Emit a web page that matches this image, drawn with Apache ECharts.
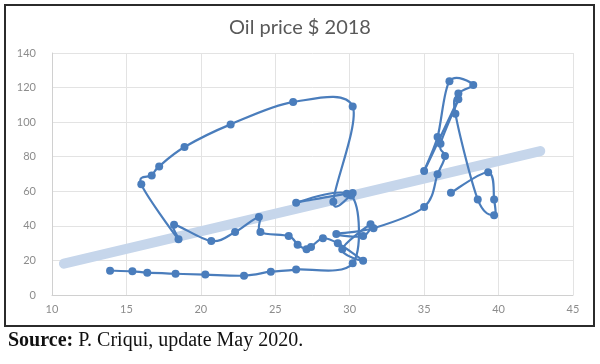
<!DOCTYPE html>
<html>
<head>
<meta charset="utf-8">
<script src="https://cdn.jsdelivr.net/npm/echarts@6/dist/echarts.min.js"></script>
<style>
html,body{margin:0;padding:0;background:#fff;}
#c{width:600px;height:364px;}
</style>
</head>
<body>
<div id="c"></div>
<script>
// Years of the path (1965-2019)
var years = [1965,1966,1967,1968,1969,1970,1971,1972,1973,1974,1975,1976,1977,1978,1979,1980,
  1981,1982,1983,1984,1985,1986,1987,1988,1989,1990,1991,1992,1993,1994,1995,1996,1997,1998,1999,
  2000,2001,2002,2003,2004,2005,2006,2007,2008,2009,2010,2011,2012,2013,2014,2015,2016,2017,2018,2019];
// x values (production)
var xValues = [13.9,15.4,16.4,18.3,20.3,22.9,24.7,26.4,30.2,30.1,26.4,29.8,30.2,28.9,30.2,26.2,
  22.0,18.9,17.2,16.7,16.0,18.5,18.2,20.7,22.3,23.9,24.0,25.9,26.5,27.1,27.4,28.2,29.2,30.9,29.5,
  31.4,30.9,29.1,31.6,35.0,35.9,36.4,36.1,37.3,35.0,35.9,36.7,38.3,37.3,37.1,38.6,39.7,39.7,39.3,36.8];
// Oil price, $ 2018
var prices = [14.1,13.7,12.9,12.3,11.8,11.2,13.5,14.7,18.3,57.5,53.4,58.6,59.0,54.0,109.1,111.6,
  98.7,85.6,74.4,69.2,64.0,32.2,40.7,31.2,36.4,45.1,36.4,34.1,29.1,26.4,27.8,32.8,29.9,19.8,26.4,
  40.9,34.1,35.3,38.6,50.9,69.8,80.4,87.5,113.2,71.7,91.4,123.6,121.5,116.5,104.9,55.3,46.1,55.3,71.0,59.2];
// Trend line end points
var trendX = [10.8, 42.8];
var trendY = [18.1, 83.3];
var xTicks = [10,15,20,25,30,35,40,45];
var yTicks = [0,20,40,60,80,100,120,140];

var pathData = xValues.map(function(x,i){ return [x, prices[i]]; });
var trendData = trendX.map(function(x,i){ return [x, trendY[i]]; });
var N = pathData.length;
var blue = '#4a7dbc';

// Smoothed (Catmull-Rom style) segment i -> i+1, positioned through the axes
function renderSegment(params, api) {
  var i = params.dataIndex;
  if (i >= N - 1) return null;
  var p1 = api.coord([api.value(0), api.value(1)]);
  var p0 = api.coord(pathData[Math.max(i - 1, 0)]);
  var p2 = api.coord(pathData[i + 1]);
  var p3 = api.coord(pathData[Math.min(i + 2, N - 1)]);
  var k = 1 / 6;
  return {
    type: 'bezierCurve',
    shape: {
      x1: p1[0], y1: p1[1], x2: p2[0], y2: p2[1],
      cpx1: p1[0] + (p2[0] - p0[0]) * k, cpy1: p1[1] + (p2[1] - p0[1]) * k,
      cpx2: p2[0] - (p3[0] - p1[0]) * k, cpy2: p2[1] - (p3[1] - p1[1]) * k
    },
    style: { stroke: blue, lineWidth: 2.2, fill: null, lineCap: 'round' }
  };
}

var chart = echarts.init(document.getElementById('c'), null, {renderer:'canvas'});
var labelFont = 'Lato, "Open Sans", sans-serif';
var serif = '"Liberation Serif", "Times New Roman", serif';
chart.setOption({
  animation:false,
  backgroundColor:'#ffffff',
  title:{
    text:'Oil price $ 2018',
    left:'center', top:13,
    textStyle:{color:'#595959', fontSize:20, fontWeight:'normal', fontFamily:labelFont}
  },
  grid:{left:52, right:27, top:53, bottom:69},
  xAxis:{
    type:'value', min:xTicks[0], max:xTicks[xTicks.length-1], interval:5,
    axisLine:{show:true, lineStyle:{color:'#d0d0d0', width:1}},
    axisTick:{show:false},
    axisLabel:{color:'#8c8c8c', fontSize:11, fontFamily:labelFont, margin:9},
    splitLine:{show:true, lineStyle:{color:'#e3e3e3', width:1}}
  },
  yAxis:{
    type:'value', min:yTicks[0], max:yTicks[yTicks.length-1], interval:20,
    axisLine:{show:true, lineStyle:{color:'#d0d0d0', width:1}},
    axisTick:{show:false},
    axisLabel:{color:'#8c8c8c', fontSize:11, fontFamily:labelFont, margin:16},
    splitLine:{show:true, lineStyle:{color:'#e3e3e3', width:1}}
  },
  series:[
    {
      type:'line', data:trendData, symbol:'none', silent:true, z:1,
      lineStyle:{color:'#c6d6eb', width:10, cap:'round'}
    },
    {
      type:'custom', data:pathData, renderItem:renderSegment, z:3, silent:true,
      encode:{x:0, y:1}
    },
    {
      type:'scatter', data:pathData, z:4,
      symbol:'circle', symbolSize:8,
      itemStyle:{color:blue, opacity:1}
    }
  ],
  graphic:[
    {type:'rect', shape:{x:5, y:5, width:589, height:321},
     style:{fill:'none', stroke:'#2b2b2b', lineWidth:2}, silent:true},
    {type:'text', left:8, top:331,
     style:{
       text:'{b|Source:} P. Criqui, update May 2020.',
       font:'20px ' + serif,
       fill:'#111',
       rich:{b:{fontWeight:'bold', fontSize:20, fontFamily:serif, fill:'#111'}}
     }}
  ]
});
</script>
</body>
</html>
